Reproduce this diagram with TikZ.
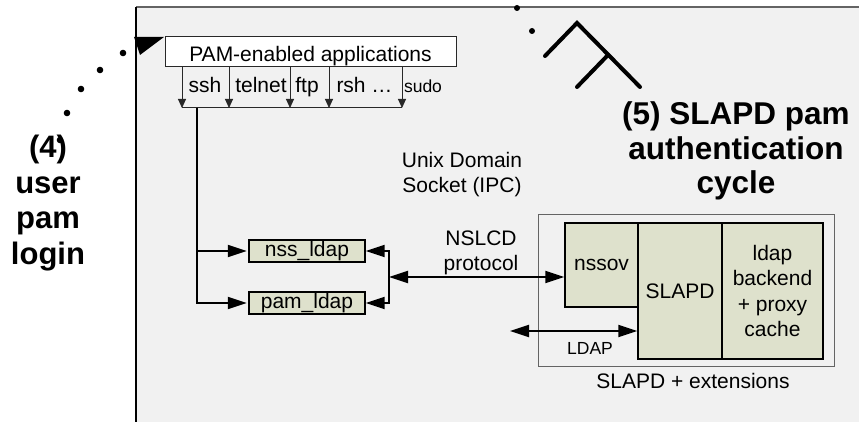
\documentclass[tikz,border=0pt]{standalone}
\usepackage{fontspec}
\setmainfont{Liberation Sans}
\usetikzlibrary{arrows.meta}
\definecolor{panel}{RGB}{241,241,241}
\definecolor{modfill}{RGB}{222,225,204}
\definecolor{edge}{RGB}{40,40,40}
\definecolor{frame}{RGB}{100,100,100}

\begin{document}
\begin{tikzpicture}[x=1pt,y=-1pt,
  txt/.style={font=\fontsize{21}{25}\selectfont, inner sep=0pt},
  small/.style={font=\fontsize{17.5}{21}\selectfont, inner sep=0pt},
  biglbl/.style={font=\fontsize{31}{35.5}\selectfont\bfseries, align=center, inner sep=0pt},
  appbox/.style={draw=edge, fill=white, line width=1pt, inner sep=0pt,
    font=\fontsize{21}{25}\selectfont, text height=20pt, text depth=0pt},
  modbox/.style={draw=black, fill=modfill, line width=1.4pt, inner sep=0pt,
    font=\fontsize{21}{25.5}\selectfont, align=center},
  sarr/.style={draw=edge, line width=0.9pt, -{Triangle[length=9pt,width=8pt]}},
  arr/.style={line width=2pt, -{Triangle[length=19pt,width=12pt]}},
  arrboth/.style={line width=2pt, {Triangle[length=19pt,width=12pt]}-{Triangle[length=19pt,width=12pt]}},
  dot/.style={fill=black}
]
\useasboundingbox (0,0) rectangle (859,422);

% grey working area
\fill[panel] (136,7) rectangle (859,422);
\draw[frame, line width=1.5pt] (136,7) -- (859,7);
\draw[black, line width=2pt] (136,7) -- (136,422);

% applications and the PAM/NSS modules
\node[appbox, minimum width=291pt, minimum height=30pt] (app) at (310.5,52) {PAM-enabled applications};

\node[txt, anchor=base] (lssh) at (205,93) {ssh};
\node[txt, anchor=base] (ltelnet) at (261,93) {telnet};
\node[txt, anchor=base] (lftp) at (307,93) {ftp};
\node[txt, anchor=base] (lrsh) at (364.5,93) {rsh …};
\node[small, anchor=base] (lsudo) at (423,93) {sudo};

\foreach \x [count=\i] in {182,229,290,329,402} {
  \coordinate (tap\i) at (\x,108);
  \draw[sarr] (tap\i |- app.south) -- (tap\i);
}
\draw[edge, line width=1pt] (tap1) -- (tap5);

\node[modbox, minimum width=116pt, minimum height=22pt] (nss) at (307,251) {nss\_ldap};
\node[modbox, minimum width=116pt, minimum height=22pt] (pam) at (307,303) {pam\_ldap};

\coordinate (trunk) at (197,108);
\draw[line width=1.6pt] (trunk) -- (trunk |- pam.west);
\draw[arr, shorten >=1.5pt] (trunk) |- (nss.west);
\draw[arr, shorten >=1.5pt] (trunk) |- (pam.west);

\node[txt, align=center] (uds) at (462,175) {Unix Domain\\Socket (IPC)};
\node[txt, align=center] (nslcd) at (481,253) {NSLCD\\protocol};

% SLAPD with its overlays
\node[draw=frame, line width=1pt, minimum width=296pt, minimum height=151pt, inner sep=0pt] (ext) at (686,290.5) {};
\node[txt, anchor=base] (extlbl) at (693,388) {SLAPD + extensions};

\node[modbox, minimum width=73pt, minimum height=84pt] (nssov) at (601.5,265) {nssov};
\node[modbox, minimum width=84pt, minimum height=136pt] (slapd) at (680,291) {SLAPD};
\node[modbox, minimum width=101pt, minimum height=136pt] (ldapbe) at (772.5,291) {ldap\\backend\\+ proxy\\cache};

\coordinate (br) at (389,277);
\draw[line width=2pt] (br |- nss.east) -- (br |- pam.east);
\draw[arr] (br) |- (nss.east);
\draw[arr] (br) |- (pam.east);
\draw[arrboth] (br) -- (br -| nssov.west);

\coordinate (ldapend) at (510,331);
\draw[arrboth] (ldapend) -- (ldapend -| slapd.west);
\node[small, anchor=base] (ldaplbl) at (590,354) {LDAP};

% cycle labels
\node[biglbl] (login) at (48,203) {(4)\\user\\pam\\login};
\node[biglbl, font=\fontsize{31.5}{34.5}\selectfont\bfseries] (cycle) at (736,151.3) {(5) SLAPD pam\\authentication\\cycle};

% dotted login path ending at the application box
\foreach \p in {(60,140),(67,113),(81,89),(100,70),(123,53)} \fill[dot] \p circle (3.3pt);
\fill (134,37) -- (164,37) -- (140,55) -- cycle;

% authentication cycle path
\fill[dot] (517,8) circle (3pt);
\fill[dot] (532,31) circle (3pt);
\draw[line width=4pt, line cap=round, line join=miter] (545,56) -- (577,23) -- (640,87);
\draw[line width=4pt, line cap=round] (608,55) -- (577,87);
\end{tikzpicture}
\end{document}
